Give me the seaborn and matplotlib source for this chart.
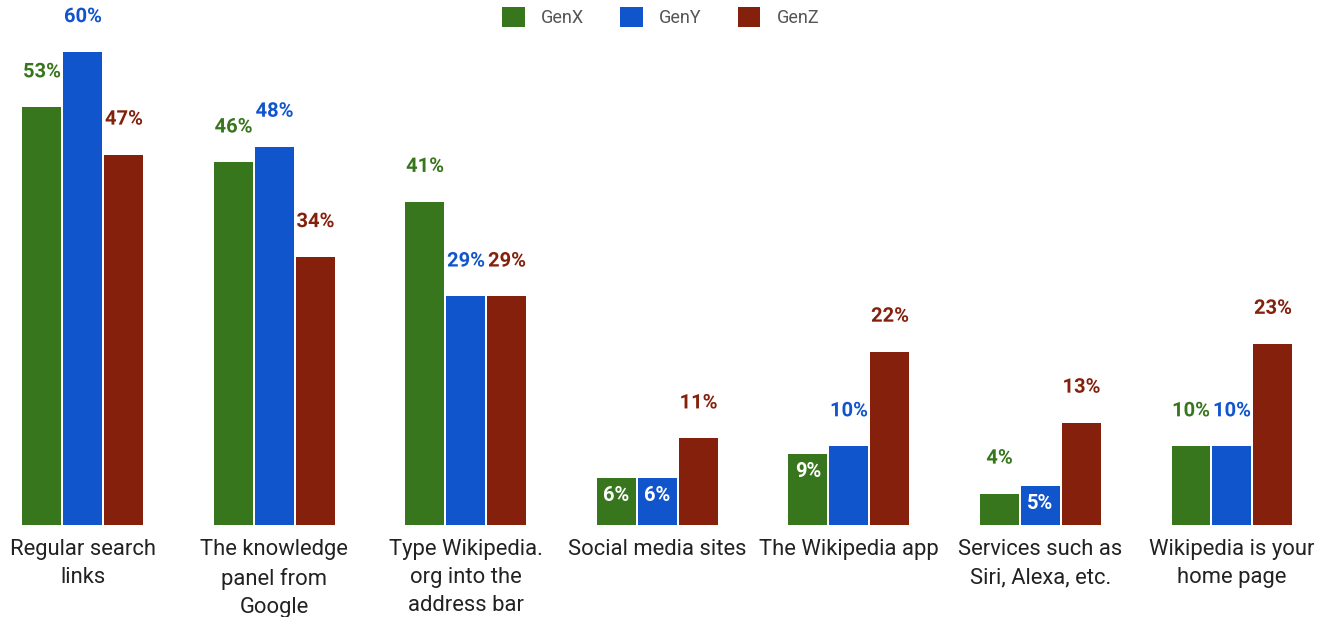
import numpy as np
import pandas as pd
import seaborn as sns
import matplotlib.pyplot as plt
import matplotlib.patheffects as pe
from matplotlib.patches import Patch

sns.set_theme(style="white")
plt.rcParams['font.family'] = ['Roboto', 'DejaVu Sans']

categories = ["Regular search\nlinks", "The knowledge\npanel from\nGoogle",
              "Type Wikipedia.\norg into the\naddress bar", "Social media sites",
              "The Wikipedia app", "Services such as\nSiri, Alexa, etc.",
              "Wikipedia is your\nhome page"]
genx = [53, 46, 41, 6, 9, 4, 10]
geny = [60, 48, 29, 6, 10, 5, 10]
genz = [47, 34, 29, 11, 22, 13, 23]
# which value labels sit inside the bar (white) instead of above it
inside_x = [False, False, False, True, True, False, False]
inside_y = [False, False, False, True, False, True, False]
inside_z = [False] * 7

gens = ["GenX", "GenY", "GenZ"]
colors = ["#38761d", "#1155cc", "#85200c"]

df = pd.DataFrame({
    "cat": categories * 3,
    "gen": ["GenX"] * 7 + ["GenY"] * 7 + ["GenZ"] * 7,
    "val": genx + geny + genz,
    "inside": inside_x + inside_y + inside_z,
})

fig = plt.figure(figsize=(13.21, 6.17), dpi=100)
ax = fig.add_axes([0, 0.149, 1, 0.851])
sns.barplot(data=df, x="cat", y="val", hue="gen", palette=colors, saturation=1,
            width=0.642, gap=0.05, linewidth=0, ax=ax, legend=False)

ax.set_xlim(-0.433, 6.465)
ax.set_ylim(0, 66.6)
ax.set_xlabel("")
ax.set_ylabel("")
ax.set_yticks([])
for s in ax.spines.values():
    s.set_visible(False)
ax.tick_params(axis="x", length=0, pad=10, labelsize=15.8, labelcolor="#222222")
for t in ax.get_xticklabels():
    t.set_linespacing(1.45)
    t.set_verticalalignment("top")

for cont, gen, col in zip(ax.containers, gens, colors):
    sub = df[df["gen"] == gen]
    for bar, v, ins in zip(cont, sub["val"], sub["inside"]):
        xc = bar.get_x() + bar.get_width() / 2
        if ins:
            ax.annotate(f"{v}%", (xc, v), xytext=(0, -12.5), textcoords="offset points",
                        ha="center", va="center", fontsize=14.5, fontweight="bold", color="white")
        else:
            ax.annotate(f"{v}%", (xc, v), xytext=(0, 25.5), textcoords="offset points",
                        ha="center", va="center", fontsize=14.5, fontweight="bold", color=col,
                        path_effects=[pe.withStroke(linewidth=3, foreground="white")])

handles = [Patch(facecolor=c, edgecolor="none") for c in colors]
fig.legend(handles, gens, loc="center", bbox_to_anchor=(0.5, 0.972), ncol=3, frameon=False,
           fontsize=13, labelcolor="#555555", handlelength=1.25, handleheight=1.25,
           columnspacing=2.0, handletextpad=0.9)

fig.savefig("out.png", dpi=100)
